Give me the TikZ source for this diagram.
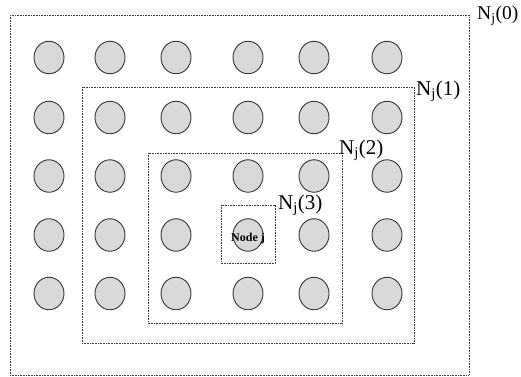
\documentclass[tikz,border=0pt]{standalone}
\usepackage{fontspec}
\setmainfont{Liberation Serif}
\usetikzlibrary{shapes.geometric}
\definecolor{cfill}{RGB}{216,217,219}
\definecolor{cline}{RGB}{50,50,50}
\definecolor{rline}{RGB}{60,60,60}
\tikzset{
  dot/.style={ellipse, draw=cline, fill=cfill, line width=0.9pt, minimum width=30pt, minimum height=32.5pt, inner sep=0pt},
  region/.style={draw=rline, line width=0.8pt, dash pattern=on 1pt off 0.6pt},
  lab/.style={anchor=base west, inner sep=0pt, font=\fontsize{21}{22}\selectfont},
}
\begin{document}
\begin{tikzpicture}[x=1pt,y=-1pt]
\useasboundingbox (0,0) rectangle (521,376);
% regions
\coordinate (r0a) at (10,15);  \coordinate (r0b) at (469,375);
\coordinate (r1a) at (82,87);  \coordinate (r1b) at (414,343);
\coordinate (r2a) at (148,153); \coordinate (r2b) at (342,323);
\coordinate (r3a) at (221,205); \coordinate (r3b) at (275,263);
\draw[region] (r0a) rectangle (r0b);
\draw[region] (r1a) rectangle (r1b);
\draw[region] (r2a) rectangle (r2b);
\draw[region] (r3a) rectangle (r3b);
% circles
\foreach \x [count=\i] in {49,110,176,248,314,387}{
  \foreach \y [count=\j] in {57.5,117.5,176,235,293.5}{
    \node[dot] (c\i-\j) at (\x,\y) {};
  }
}
% labels
\node[lab, font=\fontsize{19.5}{20}\selectfont] (l0) at (477,19) {N\textsubscript{j}(0)};
\node[lab] (l1) at (416,95) {N\textsubscript{j}(1)};
\node[lab] (l2) at (339,154) {N\textsubscript{j}(2)};
\node[lab] (l3) at (278,209) {N\textsubscript{j}(3)};
\node[inner sep=0pt, font=\bfseries\fontsize{12}{12}\selectfont] (nj) at ([yshift=-4pt]c4-4.center) {Node j};
\end{tikzpicture}
\end{document}
